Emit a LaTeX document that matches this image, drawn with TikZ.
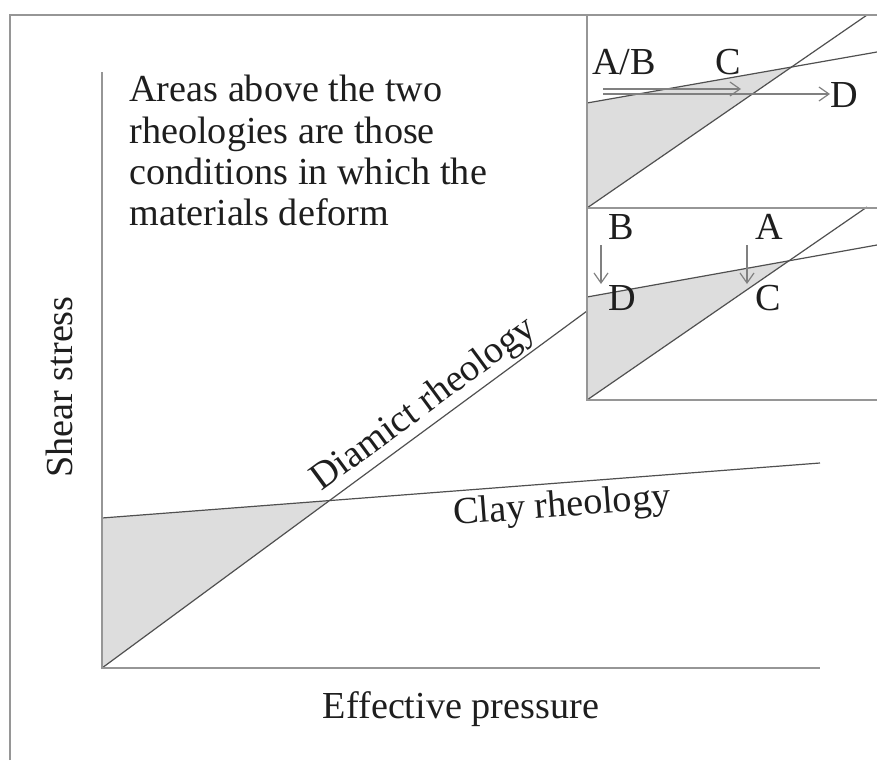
\documentclass[tikz,border=0pt]{standalone}
\usepackage{fontspec}
\setmainfont{Liberation Serif}
\usetikzlibrary{arrows.meta,positioning}
\definecolor{linegray}{RGB}{80,80,80}
\definecolor{framegray}{RGB}{150,150,150}
\definecolor{shadegray}{RGB}{221,221,221}
\definecolor{textdark}{RGB}{30,30,30}

\begin{document}
\begin{tikzpicture}[x=0.5pt,y=-0.5pt,
    frame/.style={draw=framegray,line width=1pt},
    rheo/.style={draw=linegray,line width=0.6pt},
    shade/.style={fill=shadegray},
    lbl/.style={font=\fontsize{19.1}{20.6}\selectfont,text=textdark},
    letter/.style={lbl,inner sep=0pt,anchor=base west},
    move/.style={->,>={Straight Barb[length=5pt,width=7pt]},draw=gray,line width=0.6pt}]
  \useasboundingbox (0,0) rectangle (877,760);
  % main plot
  \coordinate (O)     at (102,668);
  \coordinate (ytop)  at (102,72);
  \coordinate (xend)  at (820,668);
  \coordinate (clayL) at (102,518);
  \coordinate (clayR) at (820,463);
  \coordinate (diaE)  at (587,311);
  \coordinate (X) at (intersection of O--diaE and clayL--clayR);
  \fill[shade] (O) -- (clayL) -- (X) -- cycle;
  \draw[rheo] (O) -- (diaE) node[pos=0.69,sloped,above=-2pt,lbl] (dialbl) {Diamict rheology};
  \draw[rheo] (clayL) -- (clayR) node[pos=0.638,sloped,below,lbl] (claylbl) {Clay rheology};
  \draw[frame] (ytop) -- (O) -- (xend);
  \draw[frame] (10,760) -- (10,15) -- (877,15);
  \node[lbl,anchor=north west,inner sep=0pt,align=left] (note) at (129,75)
    {Areas above the two\\rheologies are those\\conditions in which the\\materials deform};
  \node[lbl,anchor=base] (xlbl) at (461,718) {Effective pressure};
  \node[lbl,anchor=base,rotate=90] (ylbl) at (72,387) {Shear stress};
  % upper inset
  \coordinate (uO) at (587,208);
  \coordinate (uclayL) at (587,103);
  \coordinate (uclayR) at (877,52);
  \coordinate (udiaE) at (867,15);
  \coordinate (uX) at (intersection of uO--udiaE and uclayL--uclayR);
  \fill[shade] (uO) -- (uclayL) -- (uX) -- cycle;
  \draw[rheo] (uO) -- (udiaE);
  \draw[rheo] (uclayL) -- (uclayR);
  \draw[frame] (877,15) -- (587,15) -- (uO) -- (877,208);
  \node[letter] (uAB) at (592,74) {A/B};
  \node[letter] (uC) at (715,74) {C};
  \node[letter] (uD) at (830,107) {D};
  \coordinate (uS1) at (603,89);
  \coordinate (uE1) at (741,89);
  \coordinate (uS2) at (603,94);
  \coordinate (uE2) at (830,94);
  \draw[move] (uS1) -- (uE1);
  \draw[move] (uS2) -- (uE2);
  % lower inset
  \coordinate (lO) at (587,400);
  \coordinate (lclayL) at (587,297);
  \coordinate (lclayR) at (877,245);
  \coordinate (ldiaE) at (867,207);
  \coordinate (lX) at (intersection of lO--ldiaE and lclayL--lclayR);
  \fill[shade] (lO) -- (lclayL) -- (lX) -- cycle;
  \draw[rheo] (lO) -- (ldiaE);
  \draw[rheo] (lclayL) -- (lclayR);
  \draw[frame] (877,208) -- (587,208) -- (lO) -- (877,400);
  \node[letter] (lB) at (608,239) {B};
  \node[letter] (lA) at (755,239) {A};
  \node[letter] (lD) at (608,310) {D};
  \node[letter] (lC) at (755,310) {C};
  \coordinate (lS1) at (601,245);
  \coordinate (lE1) at (601,284);
  \coordinate (lS2) at (747,245);
  \coordinate (lE2) at (747,284);
  \draw[move] (lS1) -- (lE1);
  \draw[move] (lS2) -- (lE2);
\end{tikzpicture}
\end{document}
